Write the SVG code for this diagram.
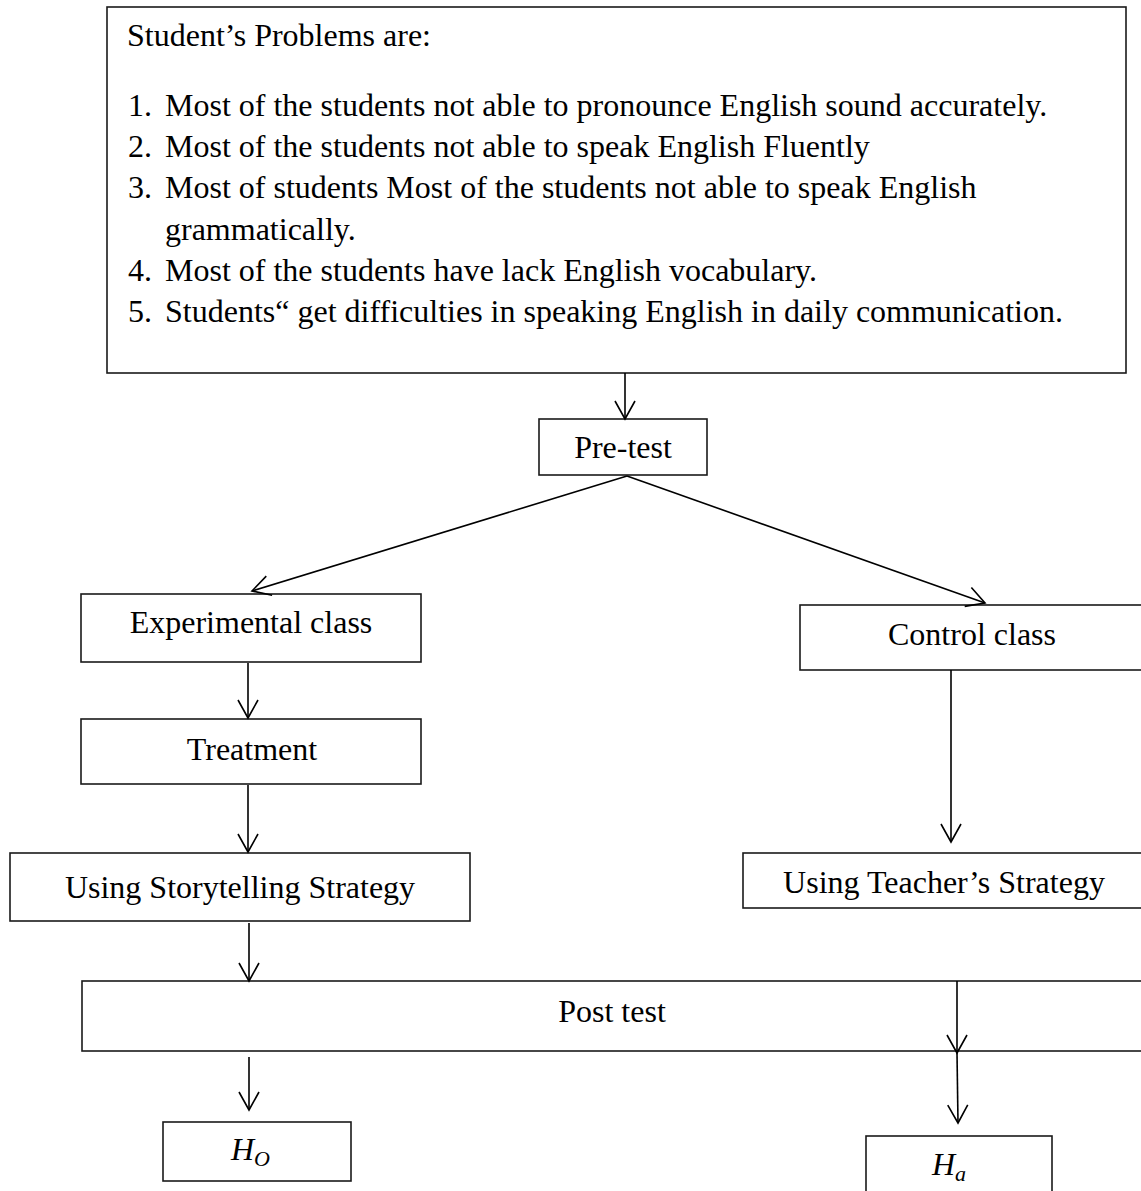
<svg xmlns="http://www.w3.org/2000/svg" width="1141" height="1191" viewBox="0 0 1141 1191">
<style>
.box{fill:#fff;stroke:#1a1a1a;stroke-width:1.6}
.t{font-family:"Liberation Serif","Times New Roman",serif;font-size:32px;fill:#000}
.c{text-anchor:middle}
.m{font-family:"Liberation Serif","Times New Roman",serif;font-style:italic;fill:#000}
.con line{stroke:#000;stroke-width:1.6;marker-end:url(#ah)}
</style>
<defs>
<marker id="ah" markerUnits="userSpaceOnUse" markerWidth="22" markerHeight="24" refX="19" refY="11" orient="auto" viewBox="0 0 22 24">
<path d="M1,1 L19,11 L1,21" fill="none" stroke="#000" stroke-width="1.6"/>
</marker>
</defs>
<rect width="1141" height="1191" fill="#fff"/>
<g id="problems">
<rect class="box" x="107" y="7" width="1019" height="366"/>
<text class="t" x="127" y="46">Student’s Problems are:</text>
<text class="t" x="128" y="116">1.</text><text class="t" x="165" y="116">Most of the students not able to pronounce English sound accurately.</text>
<text class="t" x="128" y="157">2.</text><text class="t" x="165" y="157">Most of the students not able to speak English Fluently</text>
<text class="t" x="128" y="198">3.</text><text class="t" x="165" y="198">Most of students Most of the students not able to speak English</text>
<text class="t" x="165" y="240">grammatically.</text>
<text class="t" x="128" y="281">4.</text><text class="t" x="165" y="281">Most of the students have lack English vocabulary.</text>
<text class="t" x="128" y="322">5.</text><text class="t" x="165" y="322">Students“ get difficulties in speaking English in daily communication.</text>
</g>
<g id="pretest">
<rect class="box" x="539" y="419" width="168" height="56"/>
<text class="t c" x="623" y="458">Pre-test</text>
</g>
<g id="experimental">
<rect class="box" x="81" y="594" width="340" height="68"/>
<text class="t c" x="251" y="633">Experimental class</text>
</g>
<g id="control">
<rect class="box" x="800" y="605" width="345" height="65"/>
<text class="t c" x="972" y="645">Control class</text>
</g>
<g id="treatment">
<rect class="box" x="81" y="719" width="340" height="65"/>
<text class="t c" x="252" y="760">Treatment</text>
</g>
<g id="storytelling">
<rect class="box" x="10" y="853" width="460" height="68"/>
<text class="t c" x="240" y="898">Using Storytelling Strategy</text>
</g>
<g id="teacher">
<rect class="box" x="743" y="853" width="402" height="55"/>
<text class="t c" x="944" y="893">Using Teacher’s Strategy</text>
</g>
<g id="posttest">
<rect class="box" x="82" y="981" width="1063" height="70"/>
<text class="t c" x="612" y="1022">Post test</text>
</g>
<g id="h0">
<rect class="box" x="163" y="1122" width="188" height="59"/>
<text class="m" x="231" y="1160" font-size="32">H<tspan font-size="22" dy="6">O</tspan></text>
</g>
<g id="ha">
<rect class="box" x="866" y="1136" width="186" height="62"/>
<text class="m" x="932" y="1175" font-size="32">H<tspan font-size="22" dy="6">a</tspan></text>
</g>
<g id="connectors" class="con">
<line x1="625" y1="373" x2="625" y2="419"/>
<line x1="627" y1="476" x2="252" y2="591"/>
<line x1="627" y1="476" x2="985" y2="603"/>
<line x1="248" y1="663" x2="248" y2="718"/>
<line x1="248" y1="785" x2="248" y2="852"/>
<line x1="951" y1="670" x2="951" y2="842"/>
<line x1="249" y1="923" x2="249" y2="981"/>
<line x1="957" y1="981" x2="957" y2="1053"/>
<line x1="957" y1="1053" x2="958" y2="1123"/>
<line x1="249" y1="1057" x2="249" y2="1110"/>
</g>
</svg>
